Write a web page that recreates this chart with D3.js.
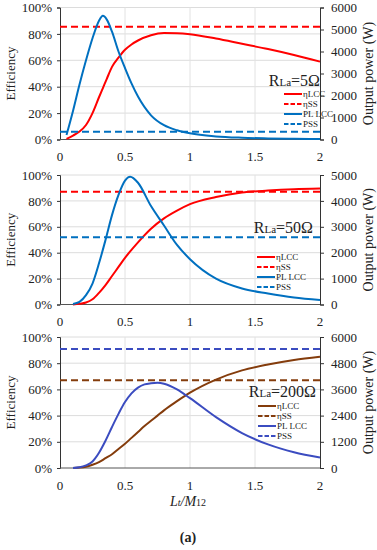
<!DOCTYPE html>
<html lang="en">
<head>
<meta charset="UTF-8">
<title>LCC vs SS</title>
<script src="https://cdn.jsdelivr.net/npm/d3@7"></script>
<style>
  body { margin: 0; background: #fff; }
</style>
</head>
<body>
<svg id="chart" width="377" height="550"></svg>
<script>
const serif = "'Liberation Serif', 'Times New Roman', Times, 'DejaVu Serif', serif";

// x axis: Lt / M12
const xTicks = [0, 0.5, 1, 1.5, 2];
const effTicks = [0, 20, 40, 60, 80, 100];

// RLa = 5 ohm
const x5 = [0.05, 0.1, 0.15, 0.2, 0.25, 0.3, 0.33, 0.36, 0.4, 0.45, 0.5, 0.55, 0.6, 0.7, 0.8, 0.9, 1.0, 1.2, 1.4, 1.6, 1.8, 2.0];
const eta5 = [0.5, 3, 6, 11, 20, 32, 39, 46, 55, 62, 68, 72, 75, 79, 80.6, 80.5, 79.8, 76.5, 72.5, 68.5, 64, 59];
const pow5 = [200, 1300, 2500, 3600, 4600, 5400, 5620, 5450, 4900, 4000, 3250, 2550, 1950, 1100, 650, 420, 280, 140, 80, 50, 30, 20];
const etaSS5 = 85.5;
const powSS5 = 350;
const powTicks5 = [0, 1000, 2000, 3000, 4000, 5000, 6000];

// RLa = 50 ohm
const x50 = [0.1, 0.15, 0.2, 0.25, 0.3, 0.35, 0.4, 0.45, 0.5, 0.54, 0.6, 0.7, 0.8, 0.9, 1.0, 1.2, 1.4, 1.6, 1.8, 2.0];
const eta50 = [0, 0.5, 1.5, 4, 9, 15, 22, 29, 36, 41, 48, 58.5, 66.5, 72.5, 77.5, 83, 86.5, 88, 89, 89.5];
const pow50 = [20, 100, 360, 810, 1590, 2490, 3450, 4230, 4780, 4930, 4700, 3800, 3050, 2300, 1750, 1000, 620, 425, 270, 170];
const etaSS50 = 87;
const powSS50 = 2600;
const powTicks50 = [0, 1000, 2000, 3000, 4000, 5000];

// RLa = 200 ohm
const x200 = [0.1, 0.15, 0.2, 0.25, 0.3, 0.35, 0.4, 0.45, 0.5, 0.55, 0.6, 0.65, 0.7, 0.75, 0.8, 0.9, 1.0, 1.2, 1.4, 1.6, 1.8, 2.0];
const eta200 = [0, 0.3, 1, 2.5, 4.5, 7.5, 10.5, 14.5, 18.5, 23, 27.5, 32, 36, 40, 44, 51, 57.5, 67.5, 74.5, 79, 82.5, 85];
const pow200 = [0, 30, 120, 300, 700, 1250, 1880, 2480, 3020, 3420, 3680, 3830, 3880, 3900, 3860, 3600, 3200, 2330, 1600, 1080, 720, 480];
const etaSS200 = 67;
const powSS200 = 5450;
const powTicks200 = [0, 1200, 2400, 3600, 4800, 6000];

const legendNames = ["\u03B7LCC", "\u03B7SS", "PL LCC", "PSS"];

const panels = [
  { x: x5, eta: eta5, pow: pow5, etaSS: etaSS5, powSS: powSS5, powTicks: powTicks5, r: "5\u03A9",
    top: 7.5, bottom: 139.5, etaColor: "#ff0000", powColor: "#0070c0",
    titleX: 320, titleY: 86, legX: 284, legY: 94, xlab: 156 },
  { x: x50, eta: eta50, pow: pow50, etaSS: etaSS50, powSS: powSS50, powTicks: powTicks50, r: "50\u03A9",
    top: 175, bottom: 304.5, etaColor: "#ff0000", powColor: "#0070c0",
    titleX: 313, titleY: 233, legX: 257, legY: 257, xlab: 321 },
  { x: x200, eta: eta200, pow: pow200, etaSS: etaSS200, powSS: powSS200, powTicks: powTicks200, r: "200\u03A9",
    top: 337, bottom: 468, etaColor: "#843c0c", powColor: "#3b4cc0",
    titleX: 316, titleY: 397, legX: 258, legY: 406, xlab: 485 }
];

const svg = d3.select("#chart").attr("font-family", serif);
const x = d3.scaleLinear().domain([0, 2]).range([60, 320]);

panels.forEach(p => {
  const yE = d3.scaleLinear().domain([0, 100]).range([p.bottom, p.top]);
  const yP = d3.scaleLinear().domain([0, d3.max(p.powTicks)]).range([p.bottom, p.top]);
  const g = svg.append("g");

  // grid
  g.selectAll(".hg").data(effTicks.slice(1)).join("line")
    .attr("x1", x(0)).attr("x2", x(2))
    .attr("y1", d => yE(d)).attr("y2", d => yE(d))
    .attr("stroke", "#dcdcdc").attr("stroke-width", 1);
  g.selectAll(".vg").data(xTicks.slice(1, -1)).join("line")
    .attr("x1", d => x(d)).attr("x2", d => x(d))
    .attr("y1", p.top).attr("y2", p.bottom)
    .attr("stroke", "#e2e2e2").attr("stroke-width", 1);

  // axes
  const left = g.append("g").attr("transform", `translate(${x(0)},0)`)
    .call(d3.axisLeft(yE).tickValues(effTicks).tickFormat(d => d + "%").tickSize(3).tickPadding(5));
  const right = g.append("g").attr("transform", `translate(${x(2)},0)`)
    .call(d3.axisRight(yP).tickValues(p.powTicks).tickFormat(d3.format("d")).tickSize(4).tickPadding(7));
  [left, right].forEach(a => {
    a.attr("font-family", serif).attr("font-size", 13);
    a.select(".domain").attr("stroke", "#333");
    a.selectAll(".tick line").attr("stroke", "#333");
    a.selectAll("text").attr("fill", "#222");
  });
  g.append("line").attr("x1", x(0)).attr("x2", x(2)).attr("y1", p.bottom).attr("y2", p.bottom)
    .attr("stroke", "#555");

  g.selectAll(".xl").data(xTicks).join("text")
    .attr("x", d => x(d)).attr("y", p.xlab + 4.5)
    .attr("text-anchor", "middle").attr("font-size", 13)
    .text(d => d);

  // axis titles
  const mid = (p.top + p.bottom) / 2;
  g.append("text").attr("transform", `translate(15,${mid}) rotate(-90)`)
    .attr("text-anchor", "middle").attr("font-size", 13).text("Efficiency");
  g.append("text").attr("transform", `translate(373,${mid}) rotate(-90)`)
    .attr("text-anchor", "middle").attr("font-size", 14).text("Output power (W)");

  // series
  const lineE = d3.line().x((d, i) => x(p.x[i])).y(d => yE(d)).curve(d3.curveMonotoneX);
  const lineP = d3.line().x((d, i) => x(p.x[i])).y(d => yP(d)).curve(d3.curveMonotoneX);
  g.append("path").attr("d", lineE(p.eta)).attr("fill", "none")
    .attr("stroke", p.etaColor).attr("stroke-width", 2);
  g.append("line").attr("x1", x(0)).attr("x2", x(2))
    .attr("y1", yE(p.etaSS)).attr("y2", yE(p.etaSS))
    .attr("stroke", p.etaColor).attr("stroke-width", 2).attr("stroke-dasharray", "7,4");
  g.append("path").attr("d", lineP(p.pow)).attr("fill", "none")
    .attr("stroke", p.powColor).attr("stroke-width", 2);
  g.append("line").attr("x1", x(0)).attr("x2", x(2))
    .attr("y1", yP(p.powSS)).attr("y2", yP(p.powSS))
    .attr("stroke", p.powColor).attr("stroke-width", 2).attr("stroke-dasharray", "7,4");

  // title
  const t = g.append("text").attr("x", p.titleX).attr("y", p.titleY)
    .attr("text-anchor", "end").attr("font-size", 16);
  t.append("tspan").text("R");
  t.append("tspan").attr("font-size", 11).text("La");
  t.append("tspan").text("=" + p.r);

  // legend
  const cols = [p.etaColor, p.etaColor, p.powColor, p.powColor];
  legendNames.forEach((name, i) => {
    const yy = p.legY + i * 10;
    g.append("line").attr("x1", p.legX).attr("x2", p.legX + 18)
      .attr("y1", yy).attr("y2", yy).attr("stroke", cols[i]).attr("stroke-width", 2)
      .attr("stroke-dasharray", i % 2 ? "4.5,2" : null);
    g.append("text").attr("x", p.legX + 19).attr("y", yy + 3)
      .attr("font-size", 9).text(name);
  });
});

// x title and caption
const xt = svg.append("text").attr("x", 188).attr("y", 506).attr("text-anchor", "middle")
  .attr("font-size", 14).attr("font-style", "italic");
xt.append("tspan").text("L");
xt.append("tspan").attr("font-size", 10).text("t");
xt.append("tspan").text("/M");
xt.append("tspan").attr("font-size", 10).attr("font-style", "normal").text("12");

svg.append("text").attr("x", 188).attr("y", 542).attr("text-anchor", "middle")
  .attr("font-size", 14).attr("font-weight", "bold").text("(a)");

// make sure every label uses the serif face
svg.selectAll("text").attr("font-family", serif).style("font-family", serif).attr("fill", "#222");
</script>
</body>
</html>
